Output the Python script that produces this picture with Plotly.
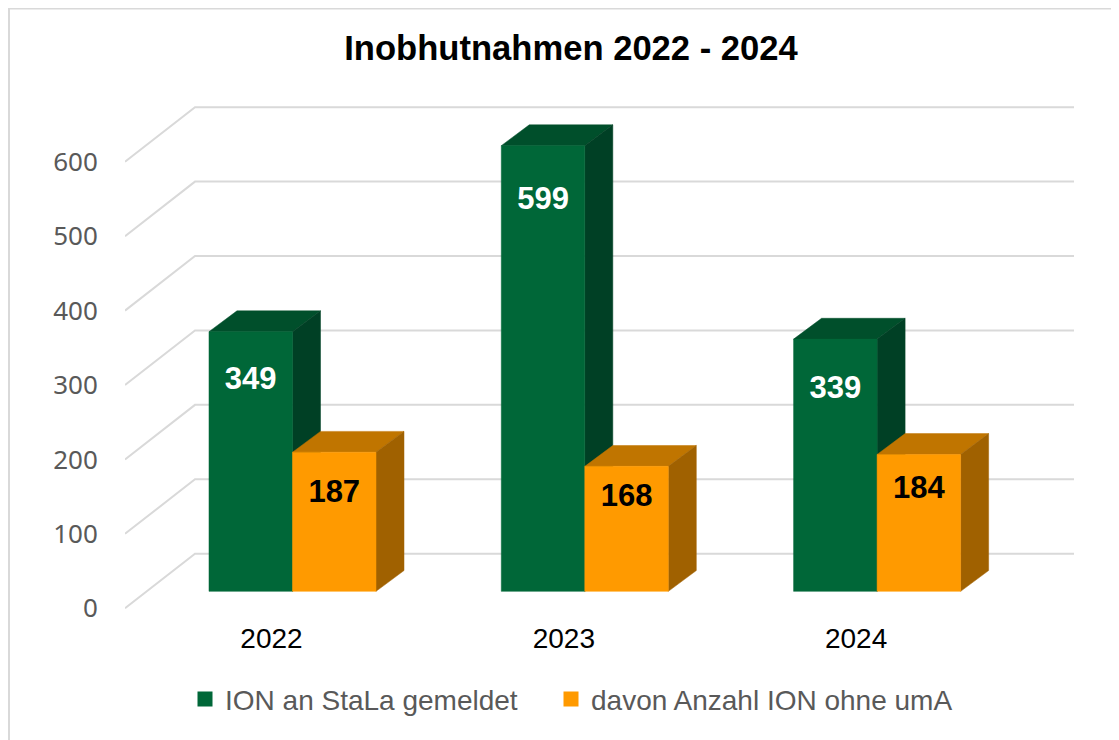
import plotly.graph_objects as go

# ---- data ----
years = ["2022", "2023", "2024"]
ion_gemeldet = [349, 599, 339]
ohne_uma = [187, 168, 184]
series_names = ["ION an StaLa gemeldet", "davon Anzahl ION ohne umA"]
y_ticks = [0, 100, 200, 300, 400, 500, 600]
title_text = "Inobhutnahmen 2022 - 2024"

# ---- geometry of the pseudo-3D projection ----
PAGE = 8             # default body margin of the page holding the figure
W, H = 1119 - PAGE, 762   # taller than the window so the legend pushes no margin
LEGEND_BOTTOM = 40
PX_PER_CAT = 292.3
PX_PER_UNIT = 0.75
X0_PX = 292.5 - PAGE  # pixel of category 0 centre on the bar front plane
Y0_PX = 613 - PAGE    # pixel of value 0 on the front of the wall
PLOT_L, PLOT_B = 125 - PAGE, 624 - PAGE
BAR_W = 1 / 3.5
FLOOR = 17 / PX_PER_UNIT
BAR_DX, BAR_DV = 28 / PX_PER_CAT, 21 / PX_PER_UNIT
WALL_DX, WALL_DV = 70 / PX_PER_CAT, 55 / PX_PER_UNIT
WALL_X0 = (PLOT_L - X0_PX) / PX_PER_CAT
WALL_X1 = (1074 - PAGE - X0_PX) / PX_PER_CAT
YEAR_SHIFT = -21 / PX_PER_CAT

label_drop_green = [50, 56, 52]
label_drop_orange = [42, 32, 36]

GREEN = ("#006738", "#004F2B", "#004025")
ORANGE = ("#FF9A00", "#C07500", "#A06100")
GRID = "#D9D9D9"

fig = go.Figure()


def poly(xs, ys, color):
    fig.add_trace(go.Scatter(x=xs + xs[:1], y=ys + ys[:1], mode="lines", fill="toself",
                             fillcolor=color, line=dict(color=color, width=0.5),
                             showlegend=False, hoverinfo="skip"))


def box(x0, x1, value, shades):
    b, t = FLOOR, FLOOR + value
    poly([x0, x0 + BAR_DX, x1 + BAR_DX, x1], [t, t + BAR_DV, t + BAR_DV, t], shades[1])
    poly([x1, x1 + BAR_DX, x1 + BAR_DX, x1], [b, b + BAR_DV, t + BAR_DV, t], shades[2])
    poly([x0, x1, x1, x0], [b, b, t, t], shades[0])


# wall gridlines
for v in y_ticks:
    fig.add_trace(go.Scatter(
        x=[WALL_X0, WALL_X0 + WALL_DX, WALL_X1],
        y=[v, v + WALL_DV, v + WALL_DV],
        mode="lines", line=dict(color=GRID, width=2), showlegend=False, hoverinfo="skip"))

# bars
for i in range(len(years)):
    box(i - BAR_W, i, ion_gemeldet[i], GREEN)
    box(i, i + BAR_W, ohne_uma[i], ORANGE)

# data labels
fig.add_trace(go.Scatter(
    x=[i - BAR_W / 2 for i in range(3)],
    y=[FLOOR + v - d / PX_PER_UNIT for v, d in zip(ion_gemeldet, label_drop_green)],
    text=[str(v) for v in ion_gemeldet], mode="text", textposition="middle center",
    textfont=dict(family="Liberation Sans", size=31, color="white", weight="bold"),
    showlegend=False, hoverinfo="skip"))
fig.add_trace(go.Scatter(
    x=[i + BAR_W / 2 for i in range(3)],
    y=[FLOOR + v - d / PX_PER_UNIT for v, d in zip(ohne_uma, label_drop_orange)],
    text=[str(v) for v in ohne_uma], mode="text", textposition="middle center",
    textfont=dict(family="Liberation Sans", size=31, color="black", weight="bold"),
    showlegend=False, hoverinfo="skip"))

# legend entries
for name, shades, lg in zip(series_names, (GREEN, ORANGE), ("legend", "legend2")):
    fig.add_trace(go.Scatter(x=[None], y=[None], mode="markers", name=name, legend=lg,
                             marker=dict(symbol="square", size=15, color=shades[0])))

legend_common = dict(orientation="h", xanchor="left", y=LEGEND_BOTTOM / H, yanchor="bottom",
                     font=dict(family="Liberation Sans", size=28, color="#595959"),
                     itemwidth=30, bgcolor="rgba(0,0,0,0)")

fig.update_layout(
    width=W, height=H, autosize=False,
    margin=dict(l=0, r=0, t=0, b=0, pad=0),
    paper_bgcolor="white", plot_bgcolor="white",
    title=dict(text=title_text, x=(571 - PAGE) / W, xanchor="center", xref="paper",
               y=1 - (48 - PAGE) / H, yanchor="middle", yref="paper",
               font=dict(family="Liberation Sans", size=34.6, color="black", weight="bold")),
    xaxis=dict(domain=[PLOT_L / W, 1],
               range=[WALL_X0, (W - X0_PX) / PX_PER_CAT],
               tickmode="array", tickvals=[i + YEAR_SHIFT for i in range(3)], ticktext=years,
               tickfont=dict(family="Liberation Sans", size=28, color="black"),
               showgrid=False, zeroline=False, showline=False, ticks=""),
    yaxis=dict(domain=[1 - PLOT_B / H, 1],
               range=[(Y0_PX - PLOT_B) / PX_PER_UNIT, Y0_PX / PX_PER_UNIT],
               tickmode="array", tickvals=y_ticks,
               tickfont=dict(family="Noto Sans", size=26, color="#595959"),
               showgrid=False, zeroline=False, showline=False, ticks="outside",
               ticklen=21, tickcolor="rgba(0,0,0,0)"),
    legend=dict(x=(185 - PAGE) / W, **legend_common),
    legend2=dict(x=(551 - PAGE) / W, **legend_common),
    shapes=[
        dict(type="line", xref="paper", yref="paper", x0=1 / W, x1=1 / W, y0=0, y1=1,
             line=dict(color=GRID, width=2)),
        dict(type="line", xref="paper", yref="paper", x0=0, x1=1, y0=1 - 0.5 / H, y1=1 - 0.5 / H,
             line=dict(color=GRID, width=2)),
    ],
)

fig.write_html("out.html", config={"displayModeBar": False, "responsive": False})
